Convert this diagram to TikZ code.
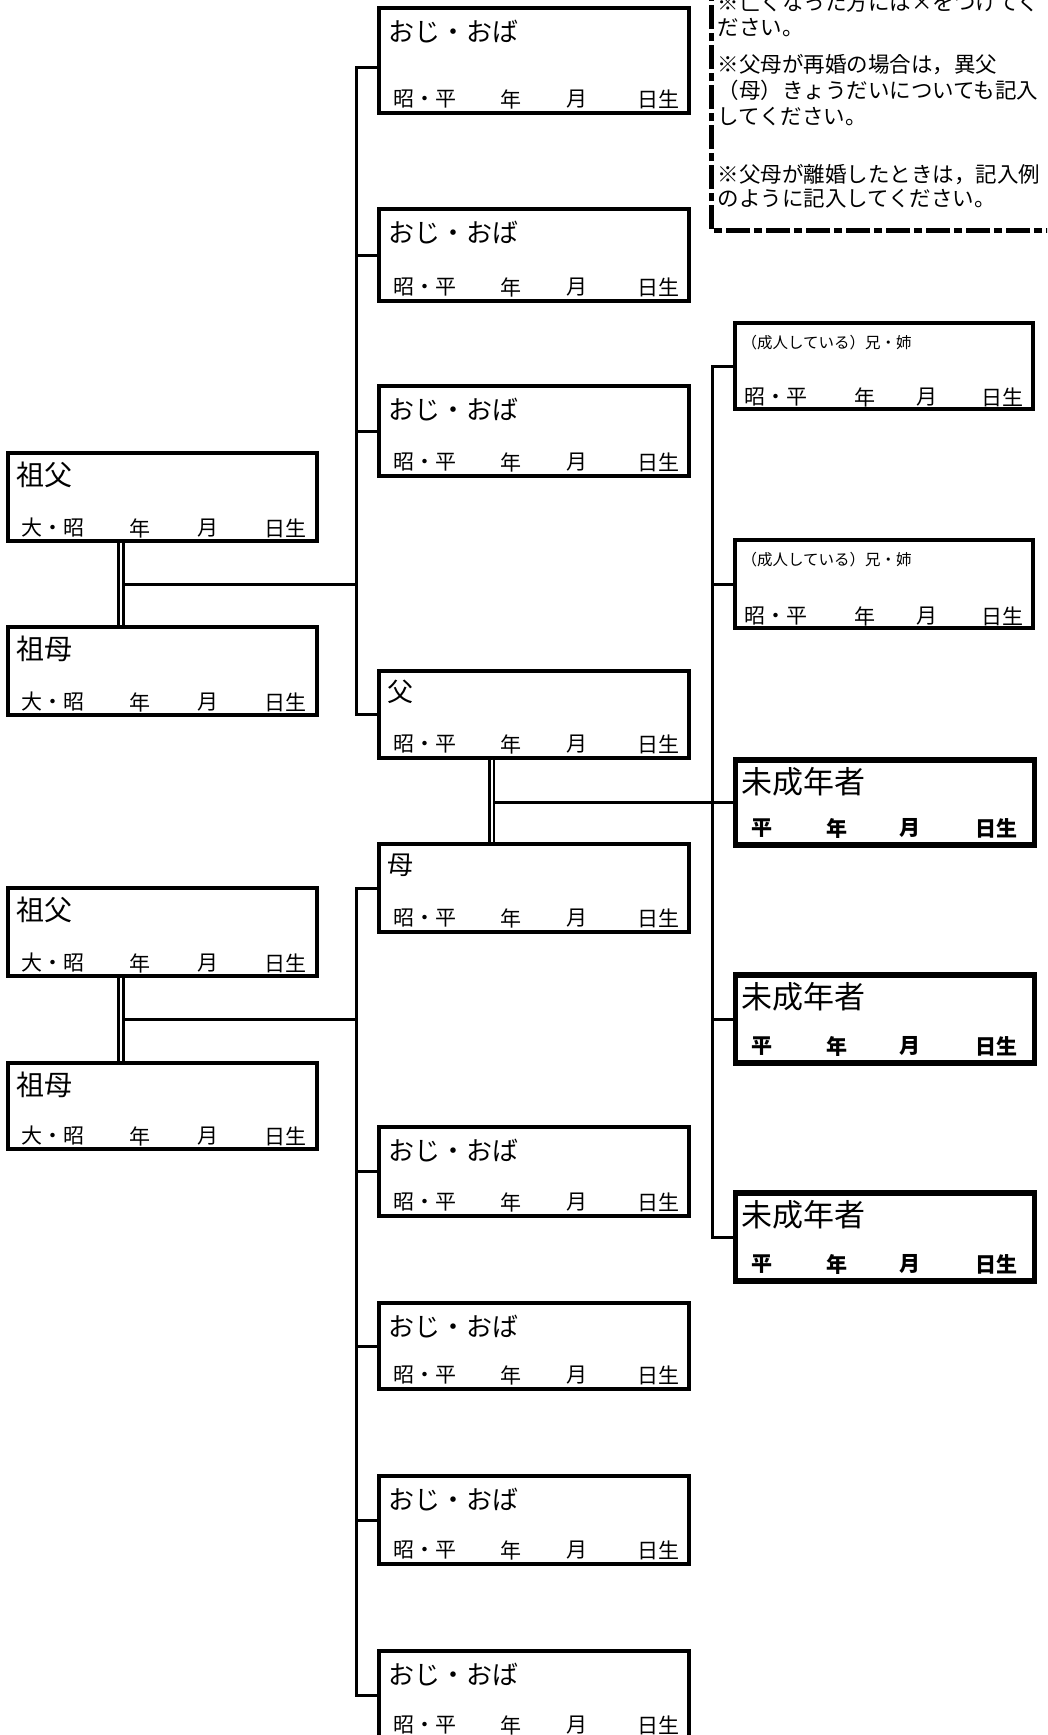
\documentclass[tikz,border=0pt]{standalone}
\usepackage{fontspec}
\newfontfamily\cjk{Noto Sans CJK JP}
\usetikzlibrary{calc}
\tikzset{
	pbox/.style={draw, line width=3.2pt, anchor=north west, minimum width=310pt, minimum height=88pt, inner sep=0pt, outer sep=0pt},
	gbox/.style={pbox, minimum width=309pt},
	sbox/.style={pbox, minimum width=298pt},
	mbox/.style={pbox, line width=5.5pt, minimum width=299pt, minimum height=85pt},
	ttl/.style={font=\cjk\fontsize{26}{26}\selectfont, anchor=west, inner sep=0pt},
	gttl/.style={ttl, font=\cjk\fontsize{28}{28}\selectfont},
	sttl/.style={ttl, font=\cjk\fontsize{15.5}{16}\selectfont},
	mttl/.style={ttl, font=\cjk\fontsize{31}{31}\selectfont},
	dt/.style={font=\cjk\fontsize{21}{21}\selectfont, inner sep=0pt},
	mdt/.style={dt, font=\cjk\bfseries\fontsize{21}{21}\selectfont},
	dbl/.style={double, line width=2.6pt, double distance=2pt, shorten <=1.6pt, shorten >=1.6pt},
	note/.style={font=\cjk\fontsize{21.5}{26}\selectfont, anchor=west, inner sep=0pt}
}
\begin{document}
\begin{tikzpicture}[x=1pt, y=-1pt, line width=3pt]
	\clip (0,0) rectangle (1047,1735);
	% note box
	\draw[line width=5pt, dash pattern=on 24pt off 4pt on 8pt off 4pt]
	(1070,230)--(711,230)--(711,-40)
	;
	\foreach \y/\t [count=\i] in {
		2/{※亡くなった方には×をつけてく},
		28/{ださい。},
		65/{※父母が再婚の場合は，異父},
		90/{（母）きょうだいについても記入},
		117/{してください。},
		175/{※父母が離婚したときは，記入例},
		199/{のように記入してください。}}
	\node[note] (n\i) at (716,\y) {\t};
	% grandparents
	\node[gbox] (gf1) at (8,453) {};
	\node[gbox] (gm1) at (8,627) {};
	\node[gbox] (gf2) at (8,888) {};
	\node[gbox, minimum height=86pt] (gm2) at (8,1063) {};
	% uncles, aunts and parents
	\node[pbox, minimum height=105pt] (u1) at (379,8) {};
	\node[pbox, minimum height=92pt] (u2) at (379,209) {};
	\node[pbox, minimum height=90pt] (u3) at (379,386) {};
	\node[pbox, minimum height=87pt] (fa) at (379,671) {};
	\node[pbox] (mo) at (379,844) {};
	\node[pbox, minimum height=89pt] (u4) at (379,1127) {};
	\node[pbox, minimum height=86pt] (u5) at (379,1303) {};
	\node[pbox] (u6) at (379,1476) {};
	\node[pbox] (u7) at (379,1651) {};
	% brothers, sisters and minors
	\node[sbox, minimum height=86pt] (s1) at (735,323) {};
	\node[sbox] (s2) at (735,540) {};
	\node[mbox] (m1) at (735.5,760) {};
	\node[mbox, minimum height=88pt] (m2) at (735.5,975) {};
	\node[mbox, minimum height=88pt] (m3) at (735.5,1193) {};
	% titles
	\foreach \b in {u1,u2,u3,u4,u5,u6,u7}
	\node[ttl] (\b-t) at ($(\b.north west)+(8,24)$) {おじ・おば};
	\node[ttl] (fa-t) at ($(fa.north west)+(7,21)$) {父};
	\node[ttl] (mo-t) at ($(mo.north west)+(7,21)$) {母};
	\foreach \b in {gf1,gf2}
	\node[gttl] (\b-t) at ($(\b.north west)+(7,22)$) {祖父};
	\foreach \b in {gm1,gm2}
	\node[gttl] (\b-t) at ($(\b.north west)+(7,22)$) {祖母};
	\foreach \b in {s1,s2}
	\node[sttl] (\b-t) at ($(\b.north west)+(5,20)$) {（成人している）兄・姉};
	\foreach \b in {m1,m2,m3}
	\node[mttl] (\b-t) at ($(\b.north west)+(4,22)$) {未成年者};
	% dates
	\foreach \b in {u1,u2,u3,fa,mo,u4,u5,u6,u7}{
		\node[dt, anchor=west] (\b-e) at ($(\b.south west)+(13,-14)$) {昭・平};
		\node[dt] (\b-y) at ($(\b.south west)+(132,-14)$) {年};
		\node[dt] (\b-m) at ($(\b.south west)+(198,-14)$) {月};
		\node[dt, anchor=east] (\b-d) at ($(\b.south east)+(-8,-14)$) {日生};
	}
	\foreach \b in {gf1,gm1,gf2,gm2}{
		\node[dt, anchor=west] (\b-e) at ($(\b.south west)+(12,-13)$) {大・昭};
		\node[dt] (\b-y) at ($(\b.south west)+(132,-13)$) {年};
		\node[dt] (\b-m) at ($(\b.south west)+(200,-13)$) {月};
		\node[dt, anchor=east] (\b-d) at ($(\b.south east)+(-9,-13)$) {日生};
	}
	\foreach \b in {s1,s2}{
		\node[dt, anchor=west] (\b-e) at ($(\b.south west)+(8,-12)$) {昭・平};
		\node[dt] (\b-y) at ($(\b.south west)+(130,-12)$) {年};
		\node[dt] (\b-m) at ($(\b.south west)+(192,-12)$) {月};
		\node[dt, anchor=east] (\b-d) at ($(\b.south east)+(-8,-12)$) {日生};
	}
	\foreach \b in {m1,m2,m3}{
		\node[mdt] (\b-e) at ($(\b.south west)+(26.5,-17)$) {平};
		\node[mdt] (\b-y) at ($(\b.south west)+(101.5,-17)$) {年};
		\node[mdt] (\b-m) at ($(\b.south west)+(174.5,-17)$) {月};
		\node[mdt, anchor=east] (\b-d) at ($(\b.south east)+(-16,-17)$) {日生};
	}
	% father side
	\coordinate (ua) at ($(u1.west)+(-23,7)$);
	\draw (u1.west|-ua)--(ua)|-(fa.west);
	\draw (u2.west)--(u2.west-|ua);
	\draw (u3.west)--(u3.west-|ua);
	\coordinate (ga) at ($(gf1.south west)+(113,0)$);
	\coordinate (gam) at ($(ga)!0.5!(ga|-gm1.north)$);
	\draw (gam)--(gam-|ua);
	\draw[dbl] (ga)--(ga|-gm1.north);
	% mother side
	\coordinate (ub) at ($(mo.west)+(-23,0)$);
	\draw (mo.west)--(ub)|-(u7.west);
	\draw (u4.west)--(u4.west-|ub);
	\draw (u5.west)--(u5.west-|ub);
	\draw (u6.west)--(u6.west-|ub);
	\coordinate (gb) at ($(gf2.south west)+(113,0)$);
	\coordinate (gbm) at ($(gb)!0.5!(gb|-gm2.north)$);
	\draw (gbm)--(gbm-|ub);
	\draw[dbl] (gb)--(gb|-gm2.north);
	% children
	\coordinate (sv) at ($(s1.west)+(-23,0)$);
	\coordinate (pa) at ($(fa.south west)+(112.5,0)$);
	\draw (s1.west)--(sv)|-(m3.west);
	\draw (s2.west)--(s2.west-|sv);
	\draw (m2.west)--(m2.west-|sv);
	\draw (pa|-m1.west)--(m1.west);
	\draw[dbl] (pa)--(pa|-mo.north);
\end{tikzpicture}
\end{document}
